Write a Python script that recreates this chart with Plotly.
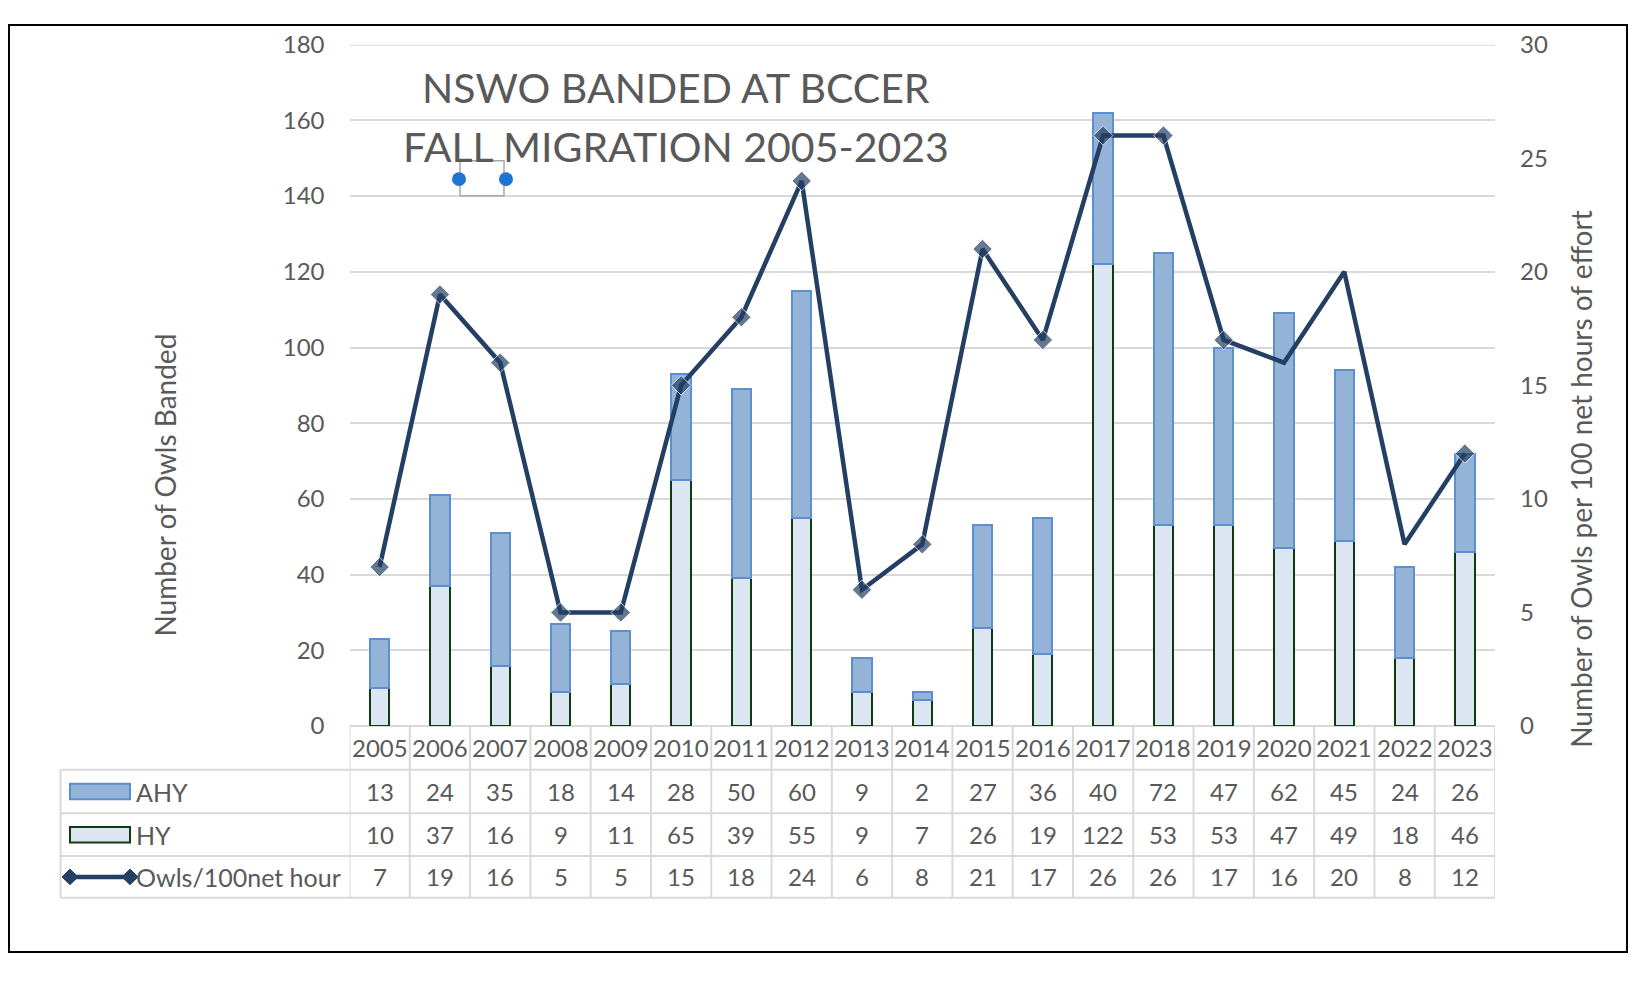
import plotly.graph_objects as go

# NSWO banding data
years = [str(y) for y in range(2005, 2024)]
ahy = [13, 24, 35, 18, 14, 28, 50, 60, 9, 2, 27, 36, 40, 72, 47, 62, 45, 24, 26]
hy = [10, 37, 16, 9, 11, 65, 39, 55, 9, 7, 26, 19, 122, 53, 53, 47, 49, 18, 46]
owls_rate = [7, 19, 16, 5, 5, 15, 18, 24, 6, 8, 21, 17, 26, 26, 17, 16, 20, 8, 12]
# Excel dropped the markers on a few points
has_marker = [1] * 15 + [0, 0, 0, 1]

# page body margin puts the plot div at (8, 8); keep the page smaller than the window
OX, OY = 8, 8
W, H = 1620, 958
GREY = "#595959"
GRID = "#D9D9D9"
FONT = "Lato"
AHY_FILL, AHY_LINE = "#95B3D7", "#5B8FCF"
HY_FILL, HY_LINE = "#DCE6F2", "#0E3B10"
NAVY = "#243F63"


def px(x):
    # reference pixel -> paper
    return (x - OX) / W


def py(y):
    return 1 - (y - OY) / H


plot_l, plot_r, plot_t, plot_b = 349.5, 1495, 29.3, 732
tab_l = 60.5
rows = [732, 777, 822, 866, 909]
n = len(years)

fig = go.Figure()
fig.add_trace(go.Bar(x=years, y=hy, name="HY",
                     marker=dict(color=HY_FILL, line=dict(color=HY_LINE, width=2))))
fig.add_trace(go.Bar(x=years, y=ahy, name="AHY",
                     marker=dict(color=AHY_FILL, line=dict(color=AHY_LINE, width=2))))
fig.add_trace(go.Scatter(
    x=years, y=owls_rate, yaxis="y2", mode="lines+markers", name="Owls/100net hour",
    line=dict(color=NAVY, width=4.5),
    marker=dict(symbol="diamond", size=[15 * m for m in has_marker], color=NAVY),
))

shapes = []
annotations = []
txt = dict(size=24, color=GREY, family=FONT)

# top gridline (plotly skips the one on the range edge)
shapes.append(dict(type="line", xref="paper", yref="y", x0=px(plot_l), x1=px(plot_r),
                   y0=180, y1=180, line=dict(color=GRID, width=2), layer="below"))

# data table grid
line = dict(color=GRID, width=2)
for i in range(n + 1):
    shapes.append(dict(type="line", xref="x", yref="paper", x0=i - 0.5, x1=i - 0.5,
                       y0=py(rows[0]), y1=py(rows[-1]), line=line))
shapes.append(dict(type="line", xref="paper", yref="paper", x0=px(tab_l), x1=px(tab_l),
                   y0=py(rows[1]), y1=py(rows[-1]), line=line))
for r in rows[1:]:
    shapes.append(dict(type="line", xref="paper", yref="paper", x0=px(tab_l), x1=px(plot_r),
                       y0=py(r), y1=py(r), line=line))

# year header + values
centers = [(rows[k] + rows[k + 1]) / 2 for k in range(4)]
for i, yr in enumerate(years):
    annotations.append(dict(x=i, y=py(centers[0]), xref="x", yref="paper", text=yr,
                            xanchor="center", yanchor="middle", showarrow=False, font=txt))
    for k, vals in enumerate([ahy, hy, owls_rate], start=1):
        annotations.append(dict(x=i, y=py(centers[k]), xref="x", yref="paper", text=str(vals[i]),
                                xanchor="center", yanchor="middle", showarrow=False, font=txt))

# row labels with legend keys
for k, lab in enumerate(["AHY", "HY", "Owls/100net hour"], start=1):
    annotations.append(dict(x=px(134), y=py(centers[k]), xref="paper", yref="paper", text=lab,
                            xanchor="left", yanchor="middle", showarrow=False,
                            font=dict(size=25, color=GREY, family=FONT)))
for k, (fc, lc) in enumerate([(AHY_FILL, AHY_LINE), (HY_FILL, HY_LINE)], start=1):
    shapes.append(dict(type="rect", xref="paper", yref="paper", x0=px(70), x1=px(130),
                       y0=py(centers[k] - 8), y1=py(centers[k] + 8),
                       fillcolor=fc, line=dict(color=lc, width=2)))
cy = centers[3]
shapes.append(dict(type="line", xref="paper", yref="paper", x0=px(70), x1=px(130),
                   y0=py(cy), y1=py(cy), line=dict(color=NAVY, width=4.5)))
for cx in (70, 130):
    shapes.append(dict(type="path", xref="paper", yref="paper",
                       path=f"M {px(cx - 8)} {py(cy)} L {px(cx)} {py(cy - 8)} "
                            f"L {px(cx + 8)} {py(cy)} L {px(cx)} {py(cy + 8)} Z",
                       fillcolor=NAVY, line=dict(color=NAVY, width=1)))

# leftover selection handles from the spreadsheet
shapes.append(dict(type="rect", xref="paper", yref="paper", x0=px(460), x1=px(504),
                   y0=py(149), y1=py(185), line=dict(color="#A6A6A6", width=1.5)))
for cx in (459, 506):
    shapes.append(dict(type="circle", xref="paper", yref="paper", x0=px(cx - 7), x1=px(cx + 7),
                       y0=py(161), y1=py(175), fillcolor="#1F74D1", line=dict(width=0)))

# outer frame
shapes.append(dict(type="rect", xref="paper", yref="paper", x0=0.0006, x1=0.9994,
                   y0=0.001, y1=0.999, line=dict(color="black", width=2)))

for yy, t in [(73, "NSWO BANDED AT BCCER"), (134, "FALL MIGRATION 2005-2023")]:
    annotations.append(dict(x=px(676), y=py(yy), xref="paper", yref="paper", text=t,
                            xanchor="center", yanchor="middle", showarrow=False,
                            font=dict(size=41, color=GREY, family=FONT)))
annotations.append(dict(x=px(165), y=py(484), xref="paper", yref="paper", text="Number of Owls Banded",
                        textangle=-90, xanchor="center", yanchor="middle", showarrow=False,
                        font=dict(size=28, color=GREY, family=FONT)))
annotations.append(dict(x=px(1581), y=py(478), xref="paper", yref="paper",
                        text="Number of Owls per 100 net hours of effort",
                        textangle=-90, xanchor="center", yanchor="middle", showarrow=False,
                        font=dict(size=28, color=GREY, family=FONT)))

fig.update_layout(
    width=W, height=H,
    margin=dict(l=0, r=0, t=0, b=0),
    paper_bgcolor="white", plot_bgcolor="white",
    barmode="stack", bargap=0.68,
    showlegend=False,
    font=dict(family=FONT, color=GREY),
    xaxis=dict(type="category", domain=[px(plot_l), px(plot_r)], showticklabels=False, ticks="",
               showgrid=False, showline=False, zeroline=False, range=[-0.5, n - 0.5]),
    yaxis=dict(domain=[py(plot_b), py(plot_t)], range=[0, 180], dtick=20, showgrid=True,
               gridcolor=GRID, gridwidth=2, zeroline=True, zerolinecolor=GRID, zerolinewidth=2,
               ticks="", ticklabelstandoff=24, tickfont=dict(size=24, color=GREY, family=FONT)),
    yaxis2=dict(overlaying="y", side="right", range=[0, 30], dtick=5, showgrid=False,
                zeroline=False, ticks="", ticklabelstandoff=24,
                tickfont=dict(size=24, color=GREY, family=FONT)),
    shapes=shapes,
    annotations=annotations,
)

fig.write_html("out.html")
